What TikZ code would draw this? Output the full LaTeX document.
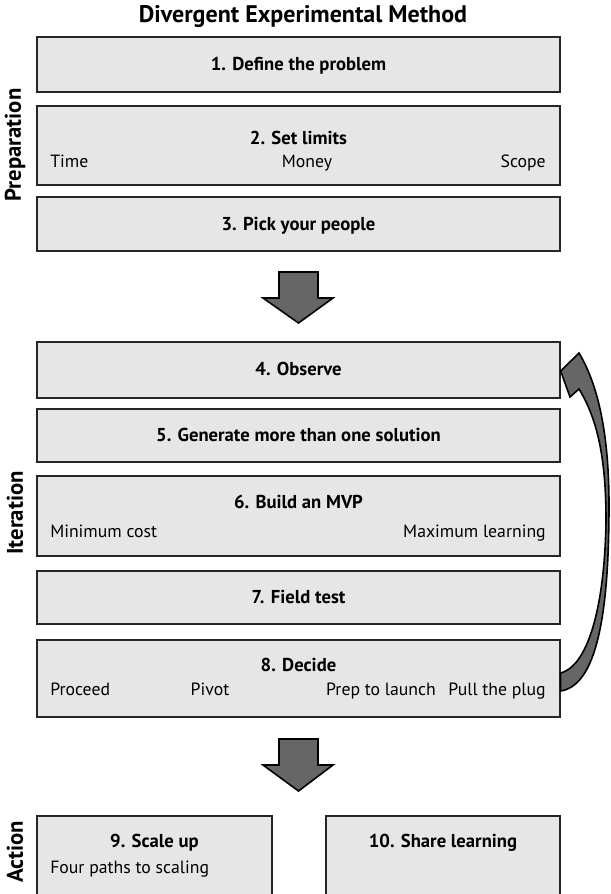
\documentclass[tikz,border=0pt]{standalone}
\usepackage{fontspec}
\setmainfont{PT Sans}
\definecolor{boxgray}{HTML}{E6E6E6}
\definecolor{arrgray}{HTML}{666666}
\tikzset{
  box/.style={draw=black!85, fill=boxgray, line width=1pt, minimum width=392.25pt, inner sep=0pt},
  hd/.style={font=\bfseries\fontsize{14}{16}\selectfont, inner sep=0pt, anchor=mid},
  subl/.style={font=\fontsize{13.3}{15}\selectfont, inner sep=0pt, anchor=mid},
  side/.style={font=\bfseries\fontsize{17}{19}\selectfont, rotate=90, inner sep=0pt},
  bigarrow/.style={draw=black, fill=arrgray, line width=1.2pt, line join=miter}
}
\begin{document}
\begin{tikzpicture}[x=0.75pt, y=-0.75pt]
\useasboundingbox (0,0) rectangle (611,894);
\clip (0,0) rectangle (611,894);
% title
\node[font=\bfseries\fontsize{18}{20}\selectfont, inner sep=0pt, anchor=mid] (title) at (303,19) {Divergent Experimental Method};
% side labels
\node[side] (prep) at (15,145) {Preparation};
\node[side] (iter) at (15,513) {Iteration};
\node[side] (act) at (15,852) {Action};
% preparation boxes
\node[box, minimum height=41.25pt] (b1) at (298.5,64.5) {};
\node[hd] (t1) at (298.5,67) {1. Define the problem};
\node[box, minimum height=59.25pt] (b2) at (298.5,145.5) {};
\node[hd] (t2) at (298.5,141) {2. Set limits};
\node[subl, anchor=mid west] (s2a) at (50,164) {Time};
\node[subl] (s2b) at (307,164) {Money};
\node[subl, anchor=mid east] (s2c) at (546,164) {Scope};
\node[box, minimum height=40.5pt] (b3) at (298.5,224) {};
\node[hd] (t3) at (298.5,227) {3. Pick your people};
% arrow 1
\path[bigarrow] (279,272) coordinate (a1) -- (318,272) -- (318,298) -- (333,298) -- (298.5,323) coordinate (a1tip) -- (263,298) -- (279,298) -- cycle;
% iteration boxes
\node[box, minimum height=42pt] (b4) at (298.5,370) {};
\node[hd] (t4) at (298.5,372) {4. Observe};
\node[box, minimum height=39.75pt] (b5) at (298.5,435.5) {};
\node[hd] (t5) at (298.5,438) {5. Generate more than one solution};
\node[box, minimum height=60pt] (b6) at (298.5,516) {};
\node[hd] (t6) at (298.5,505) {6. Build an MVP};
\node[subl, anchor=mid west] (s6a) at (50,534) {Minimum cost};
\node[subl, anchor=mid east] (s6b) at (546,534) {Maximum learning};
\node[box, minimum height=39.75pt] (b7) at (298.5,597.5) {};
\node[hd] (t7) at (298.5,600) {7. Field test};
\node[box, minimum height=57.75pt] (b8) at (298.5,678.5) {};
\node[hd] (t8) at (298.5,668) {8. Decide};
\node[subl, anchor=mid west] (s8a) at (50,692) {Proceed};
\node[subl] (s8b) at (210,692) {Pivot};
\node[subl] (s8c) at (381,692) {Prep to launch};
\node[subl, anchor=mid east] (s8d) at (546,692) {Pull the plug};
% curved feedback arrow from box 8 to box 4
\path[draw=black, fill=arrgray, line width=1.2pt, line join=miter]
  (b4.east |- 0,371) -- (579,353)
  .. controls (600,388) and (609,440) .. (609,505)
  .. controls (609,600) and (600,685) .. (b8.east |- 0,691)
  -- (b8.east |- 0,673)
  .. controls (590,665) and (605,600) .. (606,520)
  .. controls (606,460) and (598,420) .. (579,389)
  -- (570,397) -- cycle;
% arrow 2
\path[bigarrow] (279,739) -- (318,739) -- (318,765) -- (333,765) -- (298.5,791) -- (263,765) -- (279,765) -- cycle;
% action boxes
\node[box, minimum width=176.25pt, minimum height=75pt] (b9) at (154.5,866) {};
\node[hd] (t9) at (154.5,844) {9. Scale up};
\node[subl, anchor=mid west] (s9) at (50,870) {Four paths to scaling};
\node[box, minimum width=175.5pt, minimum height=75pt] (b10) at (443,866) {};
\node[hd] (t10) at (443,844) {10. Share learning};
\end{tikzpicture}
\end{document}
